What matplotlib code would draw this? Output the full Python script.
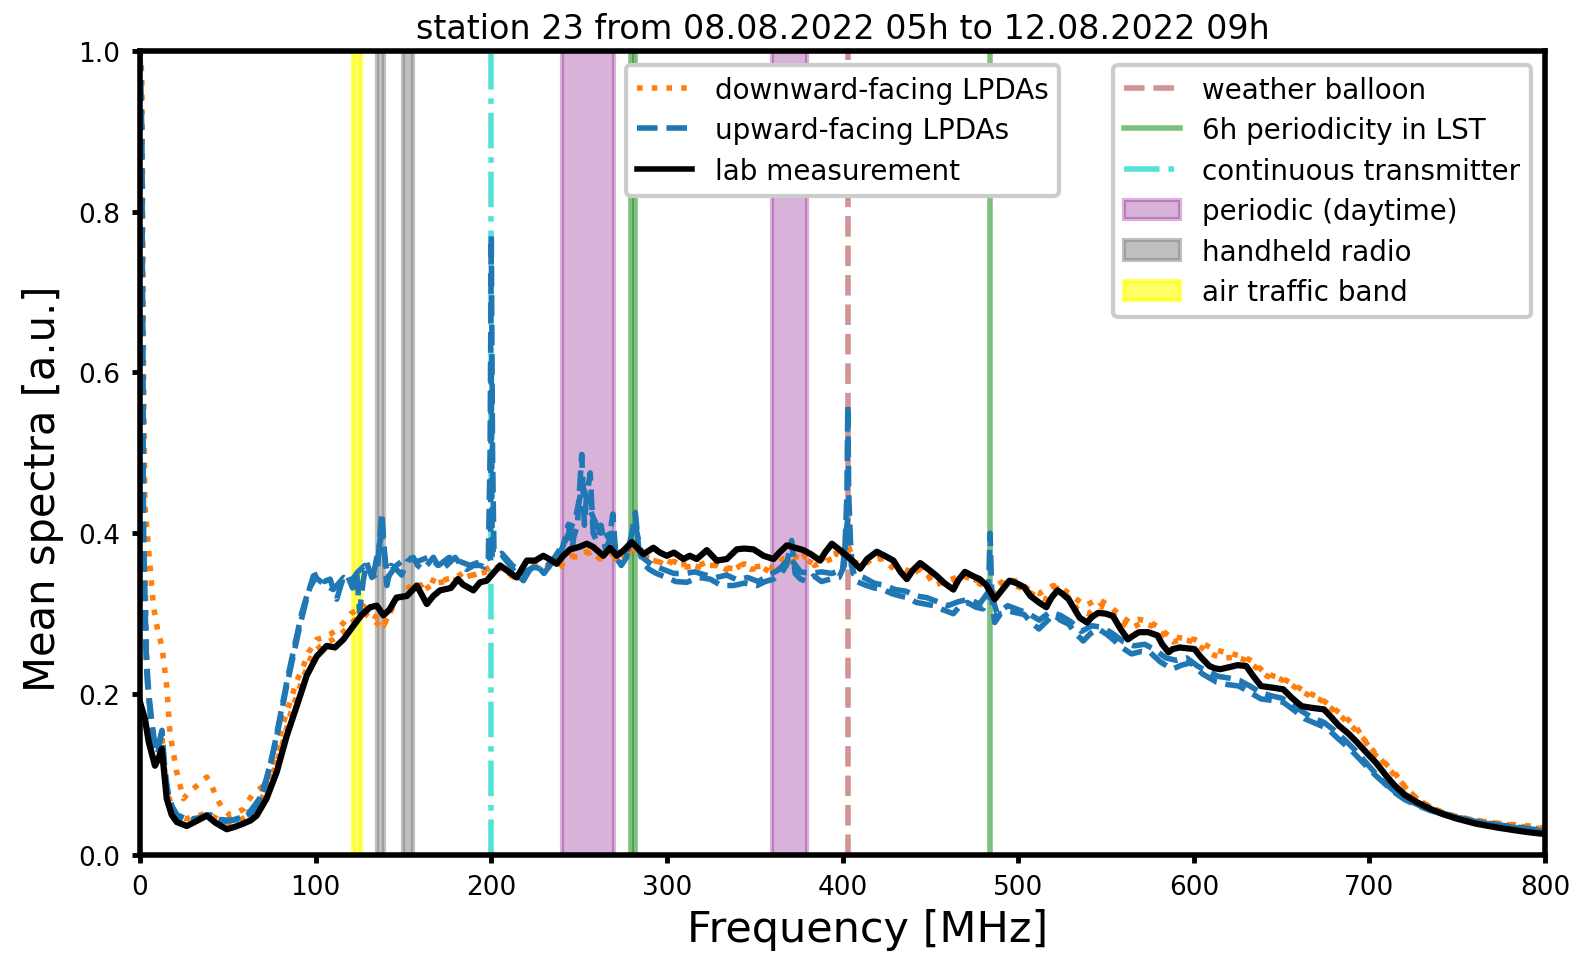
import numpy as np
import matplotlib
matplotlib.use("Agg")
import matplotlib.pyplot as plt
from matplotlib.lines import Line2D
from matplotlib.patches import Patch

# ---------------- data ----------------
lab_f = [0, 2.8, 5, 8.5, 10.5, 12.4, 15.2, 18, 20.9, 26.6, 32, 38, 43, 49.4, 54, 58.8, 63, 66.4, 72, 77.8,
         83.5, 89.2, 94.9, 100.6, 106.3, 111, 115.8, 121.5, 126, 131, 134.8, 138.6, 142, 146, 151.9, 157.6,
         163.3, 167, 170.8, 177, 181, 184, 189.8, 193.6, 197.4, 201, 205, 210, 214.5, 220.2, 225, 229.6, 233,
         237.2, 241, 244.9, 250, 254.4, 258, 263.8, 267.7, 271.4, 275, 280, 286.6, 292.3, 296, 299.9, 304,
         309.4, 313, 317, 322.7, 328.4, 334.1, 339.8, 344, 349.3, 355, 360.7, 364, 368.3, 373, 377.7, 382,
         387.2, 390, 393.9, 398, 402.4, 406, 410, 414, 419.5, 424, 429, 433, 436.6, 440, 444.2, 449, 453.6,
         458, 463.1, 466, 469.7, 474, 478.1, 482, 486.6, 491, 495, 499, 503.4, 507, 511.8, 516, 519, 522.4,
         525, 528.7, 532, 535, 539.2, 542, 545.6, 550, 554, 558, 562.4, 565, 568.7, 574, 579.3, 582, 585.6,
         588, 591.9, 596, 600.4, 604, 608.8, 612, 615.1, 621, 625, 629.8, 634, 638.3, 645, 650.9, 656, 661.4,
         667, 674.1, 678, 682.5, 688, 693, 698, 703.6, 709, 714.1, 720, 726.7, 734, 741.5, 750, 760.5, 773,
         785, 791.6, 800]
lab_v = [0.19, 0.169, 0.14, 0.111, 0.12, 0.132, 0.07, 0.05, 0.041, 0.036, 0.042, 0.049, 0.04, 0.032, 0.035,
         0.039, 0.043, 0.049, 0.07, 0.103, 0.148, 0.185, 0.223, 0.247, 0.26, 0.258, 0.268, 0.285, 0.298, 0.308,
         0.31, 0.298, 0.305, 0.32, 0.322, 0.335, 0.312, 0.322, 0.329, 0.332, 0.343, 0.336, 0.329, 0.339, 0.341,
         0.35, 0.36, 0.352, 0.345, 0.366, 0.366, 0.372, 0.368, 0.362, 0.372, 0.38, 0.383, 0.387, 0.383, 0.372,
         0.382, 0.372, 0.378, 0.389, 0.374, 0.382, 0.376, 0.372, 0.376, 0.368, 0.372, 0.368, 0.379, 0.366,
         0.368, 0.38, 0.381, 0.38, 0.372, 0.368, 0.376, 0.385, 0.382, 0.379, 0.374, 0.366, 0.376, 0.387, 0.38,
         0.372, 0.365, 0.356, 0.368, 0.377, 0.372, 0.366, 0.352, 0.343, 0.354, 0.363, 0.355, 0.347, 0.338,
         0.33, 0.342, 0.352, 0.347, 0.343, 0.335, 0.318, 0.33, 0.341, 0.338, 0.333, 0.322, 0.314, 0.308, 0.32,
         0.329, 0.325, 0.318, 0.306, 0.295, 0.289, 0.296, 0.301, 0.3, 0.297, 0.282, 0.268, 0.272, 0.277,
         0.277, 0.273, 0.262, 0.252, 0.256, 0.258, 0.257, 0.256, 0.246, 0.235, 0.232, 0.231, 0.234, 0.236,
         0.235, 0.222, 0.21, 0.208, 0.206, 0.195, 0.185, 0.183, 0.181, 0.172, 0.161, 0.151, 0.14, 0.128,
         0.115, 0.1, 0.087, 0.075, 0.066, 0.058, 0.051, 0.045, 0.039, 0.034, 0.03, 0.028, 0.026]

down1_f = [0, 1, 2, 2.8, 4.7, 7.6, 10, 12.4, 15.2, 17, 20.9, 24.7, 28, 32.3, 38, 41, 43.7, 47, 51.3, 55, 58.8,
           63.6, 70.2, 74, 77.8, 81, 85.4, 89, 93, 96, 100.6, 104, 108, 112, 116, 120, 124, 127, 131, 135,
           138.6, 142, 146, 150, 155.6, 160, 165, 170, 174.6, 180, 184, 190, 195.5, 199, 203, 208, 214.5, 220,
           226, 232, 238, 244, 250, 256, 262, 268, 274, 280, 286, 292, 298, 304, 311, 318, 324, 330, 338, 344,
           350, 356, 361, 366, 372, 378, 384, 390, 396, 400, 403, 406, 412, 418, 424, 433, 440, 446, 452, 458,
           465, 467.5, 472, 478, 484, 488, 493, 500, 506, 512, 520, 526, 532, 538, 545.6, 552, 558, 563,
           568.7, 575, 580, 586, 592, 600.4, 606, 612, 621.7, 628, 634, 640, 646, 650.9, 656, 662, 667, 672,
           678, 684, 688, 693, 698, 703, 709, 714.1, 720, 727, 735.2, 745, 760, 775, 791.6, 800]
down1_v = [1.0, 0.97, 0.6, 0.434, 0.384, 0.31, 0.28, 0.26, 0.21, 0.152, 0.103, 0.07, 0.078, 0.086, 0.097,
           0.085, 0.07, 0.058, 0.049, 0.052, 0.057, 0.074, 0.086, 0.1, 0.128, 0.16, 0.19, 0.215, 0.235, 0.252,
           0.268, 0.27, 0.274, 0.28, 0.289, 0.3, 0.305, 0.31, 0.3, 0.295, 0.285, 0.3, 0.318, 0.325, 0.339,
           0.335, 0.343, 0.338, 0.343, 0.345, 0.351, 0.348, 0.353, 0.358, 0.36, 0.352, 0.343, 0.358, 0.362,
           0.36, 0.355, 0.37, 0.375, 0.378, 0.368, 0.375, 0.368, 0.382, 0.372, 0.368, 0.362, 0.365, 0.358,
           0.36, 0.365, 0.358, 0.356, 0.362, 0.358, 0.36, 0.356, 0.368, 0.372, 0.368, 0.362, 0.37, 0.375, 0.37,
           0.388, 0.365, 0.36, 0.37, 0.368, 0.356, 0.352, 0.358, 0.335, 0.34, 0.345, 0.353, 0.345, 0.34, 0.33,
           0.335, 0.343, 0.34, 0.33, 0.325, 0.335, 0.33, 0.32, 0.31, 0.318, 0.31, 0.298, 0.29, 0.293, 0.29,
           0.283, 0.272, 0.27, 0.268, 0.262, 0.255, 0.25, 0.247, 0.24, 0.227, 0.222, 0.219, 0.213, 0.205, 0.2,
           0.195, 0.185, 0.175, 0.168, 0.157, 0.14, 0.125, 0.114, 0.103, 0.085, 0.07, 0.059, 0.05, 0.043,
           0.039, 0.036, 0.033]

down2_f = [0, 2, 4, 7, 10, 12.4, 15, 20, 26, 32, 38, 44, 50, 56, 62, 68, 74, 80, 86, 92, 98, 104, 110, 116,
           122, 128, 134, 138, 144, 150, 156, 162, 168, 174, 180, 186, 192, 198, 204, 210, 216, 222, 228, 234,
           240, 246, 252, 258, 264, 270, 276, 282, 288, 294, 300, 306, 312, 318, 324, 330, 336, 342, 348, 354,
           360, 366, 372, 378, 384, 390, 396, 402, 408, 414, 420, 426, 432, 438, 444, 450, 456, 462, 468, 474,
           480, 486, 492, 498, 504, 510, 516, 522, 528, 534, 540, 546, 552, 558, 564, 570, 576, 582, 588, 594,
           600, 606, 612, 618, 624, 630, 636, 642, 648, 654, 660, 666, 672, 678, 684, 690, 696, 702, 708, 714,
           720, 726, 734, 744, 756, 770, 785, 800]
down2_v = [1.0, 0.45, 0.22, 0.15, 0.13, 0.15, 0.08, 0.05, 0.045, 0.048, 0.052, 0.045, 0.04, 0.042, 0.05,
           0.065, 0.09, 0.13, 0.178, 0.215, 0.25, 0.262, 0.268, 0.278, 0.292, 0.3, 0.29, 0.282, 0.31, 0.322,
           0.332, 0.33, 0.338, 0.34, 0.342, 0.346, 0.35, 0.352, 0.358, 0.35, 0.346, 0.36, 0.365, 0.358, 0.362,
           0.37, 0.372, 0.378, 0.37, 0.368, 0.375, 0.378, 0.37, 0.365, 0.366, 0.36, 0.362, 0.358, 0.36, 0.36,
           0.352, 0.36, 0.355, 0.358, 0.35, 0.36, 0.365, 0.372, 0.36, 0.365, 0.37, 0.375, 0.36, 0.365, 0.37,
           0.362, 0.35, 0.348, 0.355, 0.345, 0.34, 0.335, 0.348, 0.342, 0.335, 0.328, 0.338, 0.335, 0.33, 0.322,
           0.318, 0.332, 0.322, 0.305, 0.3, 0.31, 0.305, 0.29, 0.282, 0.288, 0.285, 0.275, 0.265, 0.268, 0.265,
           0.255, 0.248, 0.245, 0.246, 0.242, 0.232, 0.222, 0.22, 0.214, 0.205, 0.198, 0.193, 0.183, 0.172,
           0.16, 0.146, 0.13, 0.115, 0.1, 0.086, 0.072, 0.06, 0.051, 0.045, 0.04, 0.036, 0.032]

up1_f = [0, 1, 2, 3.5, 5, 7, 9, 11, 12.5, 14, 16, 19, 23, 28, 33, 38, 43, 48, 53, 58, 63, 67, 71, 75, 79, 83,
         87, 91, 95, 98.7, 102, 105, 108.2, 112, 115, 118, 121, 123.4, 125, 127, 129, 132, 135, 137.6, 140.5,
         143, 146, 149, 152, 155.6, 158, 161, 164, 167, 171, 174.6, 177, 179.4, 183, 186, 190, 193.6, 196,
         198.3, 199.3, 200, 200.7, 201.5, 204, 207, 210.7, 214, 218.3, 222, 226, 230, 234, 238, 241, 243.9,
         246, 247, 249, 251.5, 253, 254, 256.3, 258, 260, 262.5, 265, 267, 269.2, 271, 274, 277, 280, 282,
         284, 286.6, 290, 294, 299.9, 305, 311.3, 318, 324.6, 331, 337.9, 344, 351.2, 356, 360.7, 365, 368,
         371, 373, 376, 380, 383.6, 388, 393, 398, 401, 402.5, 403, 403.5, 405, 408, 413.6, 418, 423, 428,
         432.8, 437, 442, 447, 451.9, 457, 463.1, 467, 471, 476, 480, 483, 484, 485, 486.6, 490, 495, 503.4,
         507, 511.8, 516, 520.2, 524, 528.7, 533, 537, 541, 545.6, 550, 554, 559, 564.5, 570, 575, 581,
         587.7, 593, 598.2, 605, 613, 619, 625.7, 632, 638.3, 645, 650.9, 657, 663.5, 670, 676.2, 682,
         688.8, 695, 701.5, 708, 714.1, 720, 726.7, 735, 743.6, 755, 766.9, 780, 791.6, 800]
up1_v = [1.0, 0.9, 0.4, 0.25, 0.2, 0.16, 0.13, 0.14, 0.155, 0.11, 0.075, 0.055, 0.045, 0.043, 0.045, 0.05,
         0.046, 0.042, 0.043, 0.046, 0.052, 0.062, 0.085, 0.12, 0.16, 0.205, 0.245, 0.285, 0.32, 0.347, 0.35,
         0.34, 0.343, 0.318, 0.34, 0.348, 0.332, 0.351, 0.302, 0.34, 0.364, 0.345, 0.35, 0.426, 0.335, 0.36,
         0.355, 0.348, 0.365, 0.37, 0.36, 0.355, 0.362, 0.37, 0.355, 0.36, 0.365, 0.37, 0.36, 0.355, 0.36,
         0.36, 0.358, 0.366, 0.5, 0.77, 0.5, 0.38, 0.38, 0.37, 0.36, 0.35, 0.341, 0.355, 0.36, 0.35, 0.362,
         0.37, 0.385, 0.411, 0.38, 0.396, 0.41, 0.498, 0.41, 0.44, 0.475, 0.4, 0.39, 0.41, 0.38, 0.39, 0.424,
         0.37, 0.36, 0.37, 0.4, 0.426, 0.38, 0.362, 0.355, 0.35, 0.345, 0.34, 0.339, 0.345, 0.343, 0.335,
         0.335, 0.338, 0.335, 0.34, 0.343, 0.35, 0.36, 0.391, 0.35, 0.343, 0.34, 0.347, 0.34, 0.343, 0.345,
         0.36, 0.45, 0.56, 0.45, 0.36, 0.34, 0.335, 0.332, 0.33, 0.325, 0.322, 0.32, 0.314, 0.312, 0.31,
         0.305, 0.3, 0.31, 0.314, 0.308, 0.306, 0.32, 0.4, 0.32, 0.289, 0.3, 0.303, 0.299, 0.29, 0.281, 0.29,
         0.299, 0.292, 0.287, 0.275, 0.266, 0.275, 0.281, 0.275, 0.268, 0.258, 0.25, 0.253, 0.252, 0.24,
         0.231, 0.236, 0.239, 0.225, 0.215, 0.212, 0.21, 0.202, 0.194, 0.192, 0.19, 0.18, 0.169, 0.163, 0.157,
         0.145, 0.132, 0.118, 0.103, 0.09, 0.078, 0.069, 0.062, 0.055, 0.05, 0.044, 0.039, 0.035, 0.031, 0.029]

up2_f = [0, 1, 2, 4, 6, 8, 10, 12, 14, 17, 21, 27, 33, 40, 46, 52, 58, 63, 68, 72, 76, 80, 84, 88, 92, 96,
         100, 104, 110, 116, 120, 124, 128, 133, 137.5, 141, 146, 152, 158, 164, 170, 176, 182, 188, 194,
         199.5, 200, 200.5, 206, 212, 218, 224, 230, 236, 242, 248, 252, 256, 260, 264, 268, 272, 278, 282,
         286, 292, 298, 304, 310, 316, 322, 328, 334, 340, 346, 352, 358, 364, 370, 376, 382, 388, 394, 400,
         403, 406, 412, 418, 424, 430, 436, 442, 448, 454, 460, 466, 472, 478, 484, 488, 494, 500, 506, 512,
         518, 524, 530, 536, 542, 548, 554, 560, 566, 572, 578, 584, 590, 596, 602, 608, 614, 620, 626, 632,
         638, 644, 650, 656, 662, 668, 674, 680, 686, 692, 698, 704, 710, 716, 722, 730, 740, 750, 760, 775,
         790, 800]
up2_v = [1.0, 0.85, 0.35, 0.22, 0.17, 0.14, 0.125, 0.15, 0.1, 0.065, 0.05, 0.044, 0.046, 0.05, 0.044, 0.043,
         0.047, 0.055, 0.07, 0.095, 0.13, 0.175, 0.22, 0.26, 0.3, 0.33, 0.345, 0.338, 0.33, 0.345, 0.34, 0.352,
         0.36, 0.35, 0.4, 0.345, 0.36, 0.37, 0.365, 0.37, 0.36, 0.37, 0.365, 0.36, 0.365, 0.37, 0.6, 0.37,
         0.375, 0.36, 0.35, 0.358, 0.355, 0.37, 0.39, 0.42, 0.46, 0.43, 0.41, 0.395, 0.4, 0.375, 0.38, 0.41,
         0.37, 0.36, 0.355, 0.35, 0.35, 0.352, 0.348, 0.345, 0.348, 0.342, 0.345, 0.34, 0.348, 0.355, 0.37,
         0.352, 0.35, 0.352, 0.35, 0.355, 0.42, 0.35, 0.345, 0.338, 0.335, 0.33, 0.328, 0.322, 0.32, 0.315,
         0.31, 0.315, 0.318, 0.312, 0.33, 0.3, 0.31, 0.305, 0.3, 0.292, 0.302, 0.298, 0.29, 0.278, 0.285,
         0.283, 0.275, 0.265, 0.26, 0.262, 0.255, 0.245, 0.242, 0.245, 0.235, 0.228, 0.222, 0.22, 0.217, 0.21,
         0.202, 0.198, 0.195, 0.188, 0.178, 0.17, 0.165, 0.155, 0.143, 0.13, 0.115, 0.1, 0.087, 0.076, 0.068,
         0.06, 0.053, 0.047, 0.042, 0.037, 0.033, 0.03]

# RFI markers (MHz)
balloon_f = [403]
lst_f = [279.5, 282.0, 484.0]
transmitter_f = [200]
daytime_bands = [(240, 270), (360, 380)]
handheld_bands = [(135, 139), (149.5, 155.5)]
airtraffic_bands = [(121.5, 126)]

title = "station 23 from 08.08.2022 05h to 12.08.2022 09h"

# ---------------- plot ----------------
fig = plt.figure(figsize=(15.95, 9.62), dpi=100)
ax = fig.add_axes([0.0878, 0.1102, 0.8809, 0.8361])

for lo, hi in daytime_bands:
    ax.axvspan(lo, hi, color='purple', alpha=0.3, lw=3, zorder=1)
for lo, hi in handheld_bands:
    ax.axvspan(lo, hi, color='gray', alpha=0.5, lw=3, zorder=1)
for lo, hi in airtraffic_bands:
    ax.axvspan(lo, hi, color='yellow', alpha=0.6, lw=3, zorder=1)
for f in balloon_f:
    ax.axvline(f, color='brown', alpha=0.5, ls='--', lw=4, zorder=1.5)
for f in lst_f:
    ax.axvline(f, color='green', alpha=0.5, ls='-', lw=4, zorder=1.5)
for f in transmitter_f:
    ax.axvline(f, color='turquoise', alpha=0.9, ls='-.', lw=4, zorder=1.5)

ax.plot(down1_f, down1_v, color='tab:orange', ls=':', lw=4, zorder=2)
ax.plot(down2_f, down2_v, color='tab:orange', ls=':', lw=4, zorder=2)
ax.plot(up1_f, up1_v, color='tab:blue', ls='--', lw=4, zorder=2.1)
ax.plot(up2_f, up2_v, color='tab:blue', ls='--', lw=4, zorder=2.1)
ax.plot(lab_f, lab_v, color='black', ls='-', lw=4.5, zorder=3)

ax.set_xlim(0, 800)
ax.set_ylim(0, 1.0)
ax.set_xticks(np.arange(0, 801, 100))
ax.set_yticks([0.0, 0.2, 0.4, 0.6, 0.8, 1.0])
for s in ax.spines.values():
    s.set_linewidth(4)
ax.tick_params(axis='both', which='major', labelsize=19, length=6, width=3.5, pad=8)

ax.set_xlabel("Frequency [MHz]", fontsize=31)
ax.set_ylabel("Mean spectra [a.u.]", fontsize=30)
ax.xaxis.set_label_coords(0.518, -0.066)
ax.yaxis.set_label_coords(-0.054, 0.456)
ax.set_title(title, fontsize=24, pad=9)

h1 = [Line2D([], [], color='tab:orange', ls=':', lw=4),
      Line2D([], [], color='tab:blue', ls='--', lw=4),
      Line2D([], [], color='black', ls='-', lw=4)]
l1 = ["downward-facing LPDAs", "upward-facing LPDAs", "lab measurement"]
leg1 = ax.legend(h1, l1, loc='upper center', fontsize=20, framealpha=1, labelspacing=0.45)
leg1.get_frame().set_linewidth(3)
ax.add_artist(leg1)

h2 = [Line2D([], [], color='brown', alpha=0.5, ls='--', lw=4),
      Line2D([], [], color='green', alpha=0.5, ls='-', lw=4),
      Line2D([], [], color='turquoise', alpha=0.9, ls='-.', lw=4),
      Patch(facecolor='purple', edgecolor='purple', alpha=0.3, lw=3),
      Patch(facecolor='gray', edgecolor='gray', alpha=0.5, lw=3),
      Patch(facecolor='yellow', edgecolor='yellow', alpha=0.6, lw=3)]
l2 = ["weather balloon", "6h periodicity in LST", "continuous transmitter",
      "periodic (daytime)", "handheld radio", "air traffic band"]
leg2 = ax.legend(h2, l2, loc='upper right', fontsize=20, framealpha=1, labelspacing=0.45)
leg2.get_frame().set_linewidth(3)

fig.savefig("out.png", dpi=100)
